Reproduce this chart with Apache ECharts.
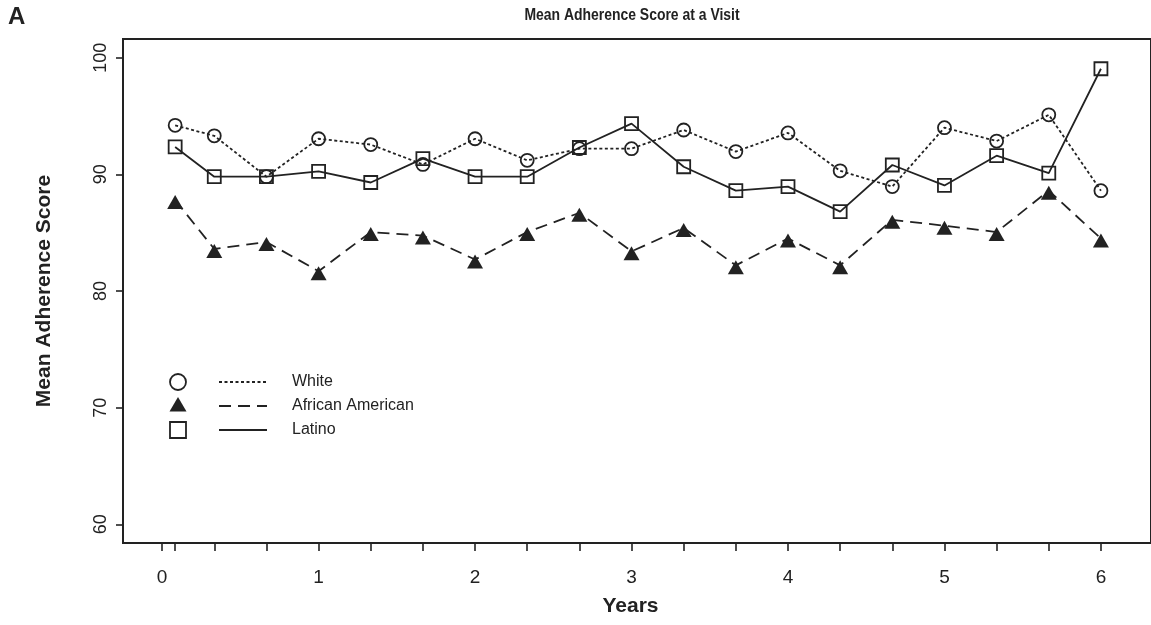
<!DOCTYPE html>
<html>
<head>
<meta charset="utf-8">
<title>Mean Adherence Score at a Visit</title>
<script src="https://cdn.jsdelivr.net/npm/echarts@6/dist/echarts.min.js"></script>
<style>
  html, body { margin: 0; padding: 0; background: #fff; }
  #chart { width: 1151px; height: 625px; }
</style>
</head>
<body>
<div id="chart"></div>
<script>
// Visit times, in months since baseline
const visitMonths = [1, 4, 8, 12, 16, 20, 24, 28, 32, 36, 40, 44, 48, 52, 56, 60, 64, 68, 72];
// Mean adherence score per visit, by group
const whiteScores = [94.2, 93.3, 89.8, 93.05, 92.55, 90.85, 93.05, 91.2, 92.2, 92.2, 93.8, 91.95, 93.55, 90.3, 88.95, 94.0, 92.85, 95.1, 88.6];
const africanAmericanScores = [87.8, 83.6, 84.2, 81.7, 85.05, 84.75, 82.7, 85.05, 86.7, 83.4, 85.4, 82.2, 84.5, 82.2, 86.1, 85.6, 85.05, 88.6, 84.5];
const latinoScores = [92.35, 89.8, 89.8, 90.25, 89.3, 91.35, 89.8, 89.8, 92.3, 94.35, 90.65, 88.6, 88.95, 86.8, 90.8, 89.05, 91.6, 90.1, 99.05];
// Axis ticks
const xTickMonths = [0, 1, 4, 8, 12, 16, 20, 24, 28, 32, 36, 40, 44, 48, 52, 56, 60, 64, 68, 72];
const xLabelYears = [0, 1, 2, 3, 4, 5, 6];
const yTicks = [60, 70, 80, 90, 100];
const groupNames = ['White', 'African American', 'Latino'];

const INK = '#222';
const FONT = '"Liberation Sans", Arial, Helvetica, sans-serif';

const toYears = m => m / 12;
const pairs = (vals) => visitMonths.map((m, i) => [toYears(m), vals[i]]);

const styles = {
  'White': { symbol: 'circle', size: 13, dash: [3, 2.5], fill: 'transparent', offset: [0, 0] },
  'African American': { symbol: 'triangle', size: [16, 14], dash: [12, 7], fill: INK, offset: [0, 2] },
  'Latino': { symbol: 'rect', size: 13, dash: 'solid', fill: 'transparent', offset: [0, 0] }
};
const seriesValues = [whiteScores, africanAmericanScores, latinoScores];

const series = groupNames.map((name, k) => {
  const s = styles[name];
  return {
    name,
    type: 'line',
    data: pairs(seriesValues[k]),
    symbol: s.symbol,
    symbolSize: s.size,
    symbolOffset: s.offset,
    showAllSymbol: true,
    animation: false,
    lineStyle: { color: INK, width: 1.8, type: s.dash },
    itemStyle: { color: s.fill, borderColor: INK, borderWidth: name === 'African American' ? 0 : 1.8 },
    emphasis: { disabled: true }
  };
});

// Key drawn in the lower-left corner of the plot
const legendX = 178, legendLineX0 = 219, legendLineX1 = 267, legendTextX = 292;
const legendRows = [382, 406, 430];
const legendElems = [];
groupNames.forEach((name, k) => {
  const y = legendRows[k];
  const s = styles[name];
  if (s.symbol === 'circle') {
    legendElems.push({ type: 'circle', shape: { cx: legendX, cy: y, r: 8 },
      style: { fill: 'none', stroke: INK, lineWidth: 1.8 } });
  } else if (s.symbol === 'triangle') {
    legendElems.push({ type: 'polygon', shape: { points: [[legendX, y - 9], [legendX + 8.5, y + 5.5], [legendX - 8.5, y + 5.5]] },
      style: { fill: INK } });
  } else {
    legendElems.push({ type: 'rect', shape: { x: legendX - 8, y: y - 8, width: 16, height: 16 },
      style: { fill: 'none', stroke: INK, lineWidth: 1.8 } });
  }
  legendElems.push({ type: 'line', shape: { x1: legendLineX0, y1: y, x2: legendLineX1, y2: y },
    style: { stroke: INK, lineWidth: 1.8, lineDash: s.dash === 'solid' ? null : s.dash } });
  legendElems.push({ type: 'text', x: legendTextX, y: y,
    style: { text: name, fill: INK, font: '16px ' + FONT, textVerticalAlign: 'middle' } });
});

// Condensed heading and panel letter
legendElems.push({ type: 'text', x: 632, y: 15, scaleX: 0.82,
  style: { text: 'Mean Adherence Score at a Visit', fill: INK, font: 'bold 17px ' + FONT,
    textAlign: 'center', textVerticalAlign: 'middle' } });
legendElems.push({ type: 'text', x: 8, y: 17,
  style: { text: 'A', fill: INK, font: 'bold 24px ' + FONT, textVerticalAlign: 'middle' } });

const chart = echarts.init(document.getElementById('chart'), null, { renderer: 'canvas' });
chart.setOption({
  backgroundColor: '#fff',
  animation: false,
  grid: { left: 123, right: -3, top: 39, bottom: 82, show: true, borderColor: INK, borderWidth: 2, backgroundColor: 'transparent' },
  xAxis: {
    type: 'value', min: -0.25, max: 6.32,
    axisLine: { show: false, onZero: false },
    splitLine: { show: false },
    axisTick: { show: true, inside: false, length: 8, lineStyle: { color: INK, width: 1.6 },
      customValues: xTickMonths.map(toYears) },
    axisLabel: { customValues: xLabelYears, margin: 25, fontFamily: FONT, fontSize: 19, color: INK,
      formatter: v => String(Math.round(v)) },
    name: 'Years', nameLocation: 'middle', nameGap: 53,
    nameTextStyle: { fontFamily: FONT, fontWeight: 'bold', fontSize: 21, color: INK, padding: [0, 13, 0, 0] }
  },
  yAxis: {
    type: 'value', min: 58.4, max: 101.6,
    axisLine: { show: false, onZero: false },
    splitLine: { show: false },
    axisTick: { show: true, inside: false, length: 7, lineStyle: { color: INK, width: 1.6 },
      customValues: yTicks },
    axisLabel: { customValues: yTicks, rotate: 90, margin: 13, fontFamily: FONT, fontSize: 18, color: INK },
    name: 'Mean Adherence Score', nameLocation: 'middle', nameGap: 68, nameRotate: 90,
    nameTextStyle: { fontFamily: FONT, fontWeight: 'bold', fontSize: 21, color: INK }
  },
  series,
  graphic: legendElems
});
</script>
</body>
</html>
